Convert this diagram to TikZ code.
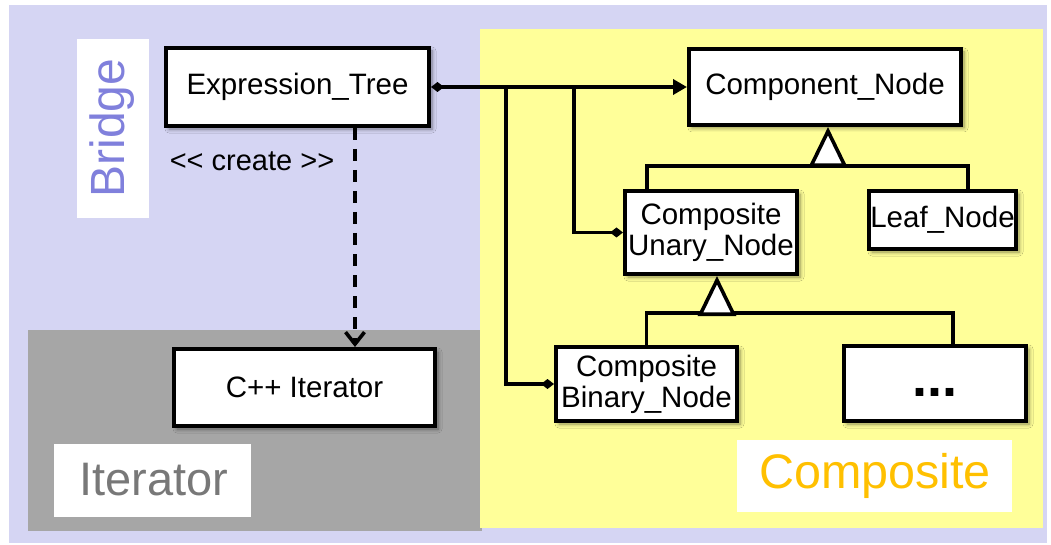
\documentclass[tikz,border=0pt]{standalone}
\usepackage{fontspec}
\setmainfont{Liberation Sans}
\usetikzlibrary{arrows.meta,shadows.blur}
\definecolor{lav}{RGB}{213,213,243}
\definecolor{yel}{RGB}{255,255,153}
\definecolor{gry}{RGB}{166,166,166}
\definecolor{bridgec}{RGB}{128,128,220}
\definecolor{compc}{RGB}{255,192,0}
\definecolor{iterc}{RGB}{120,120,120}
\begin{document}
\begin{tikzpicture}[x=1pt,y=-1pt,
  cls/.style={draw=black,fill=white,line width=4pt,inner sep=0pt,align=center,
    font=\fontsize{29.5}{31}\selectfont,
    blur shadow={shadow xshift=3pt,shadow yshift=-3pt,shadow blur radius=4pt,shadow blur steps=6,shadow opacity=45}},
  conn/.style={line width=3.6pt},
  dia/.style={conn,{Diamond[length=13pt,width=10pt]}-},
  inh/.style={conn,-{Triangle[open,fill=white,length=40pt,width=38pt]}},
  dep/.style={conn,dash pattern=on 12pt off 9pt,-{Straight Barb[length=12pt,width=19pt]}},
  lbl/.style={inner sep=0pt}
]
\useasboundingbox (0,0) rectangle (1051,545);
\fill[white] (0,0) rectangle (1051,545);
\fill[lav] (9,5) rectangle (1047,543);
\fill[gry] (28,330) rectangle (482,531);
\fill[yel] (480,29) rectangle (1043,528);
% label plates
\fill[white] (77,39) rectangle (149,218);
\fill[white] (54,444) rectangle (251,517);
\fill[white] (737,440) rectangle (1012,512);
\node[lbl,rotate=90,text=bridgec,font=\fontsize{48}{48}\selectfont] (bridge) at (112,128) {Bridge};
\node[lbl,text=iterc,font=\fontsize{47}{47}\selectfont] (iterlbl) at (154,480) {Iterator};
\node[lbl,text=compc,font=\fontsize{48.5}{48.5}\selectfont] (complbl) at (875,476) {Composite};

% classes
\node[cls,minimum width=263pt,minimum height=78pt] (expr) at (297.5,87) {Expression\_Tree};
\node[cls,minimum width=261pt,minimum height=77pt] (iter) at (304.5,387.5) {C++ Iterator};
\node[cls,minimum width=272pt,minimum height=76pt] (comp) at (825,87) {Component\_Node};
\node[cls,minimum width=172pt,minimum height=83pt] (un) at (711,232.5) {Composite\\Unary\_Node};
\node[cls,minimum width=147pt,minimum height=58pt] (leaf) at (942.5,220) {Leaf\_Node};
\node[cls,minimum width=181pt,minimum height=74pt] (bin) at (646.5,384) {Composite\\Binary\_Node};
\node[cls,minimum width=182pt,minimum height=75pt,font=\fontsize{54}{54}\selectfont\bfseries] (dots) at (935,383.5) {\vphantom{Ag}...};

\node[lbl,font=\fontsize{29}{30}\selectfont] (create) at (252,161) {<\kern0pt< create >\kern0pt>};

% dependency
\coordinate (d1) at (expr.south -| 355,0);
\draw[dep] (d1) -- (d1 |- iter.north);

% aggregation / association
\coordinate (j1) at (expr.east -| 506,0);
\coordinate (j2) at (expr.east -| 574,0);
\draw[conn,{Diamond[length=13pt,width=10pt]}-{Triangle[length=14pt,width=15pt]}] (expr.east) -- (comp.west);
\draw[dia] (bin.west) -| (j1);
\draw[dia] (un.west) -| (j2);

% inheritance 1
\coordinate (hA) at (647,166);
\coordinate (hB) at (968,166);
\coordinate (g1) at (828,166);
\draw[conn] (hA |- un.north) -- (hA) -- (hB) -- (hB |- leaf.north);
\draw[inh] (g1) -- (g1 |- comp.south);

% inheritance 2
\coordinate (hD) at (953,313);
\coordinate (g2) at (717,313);
\draw[conn] (bin.north) |- (hD) -- (hD |- dots.north);
\draw[inh] (g2) -- (g2 |- un.south);
\end{tikzpicture}
\end{document}
